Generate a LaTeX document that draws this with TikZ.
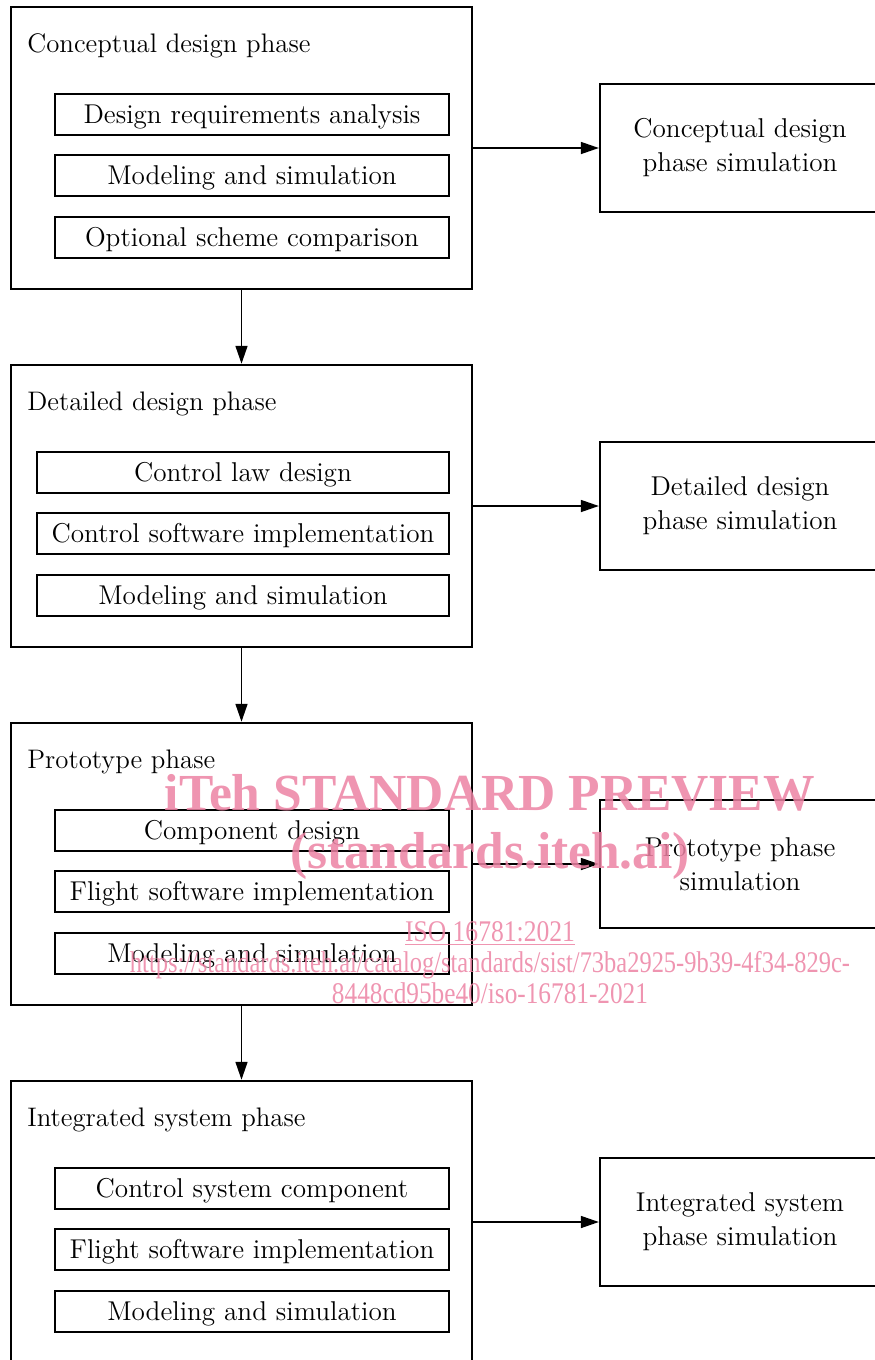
\documentclass[tikz,border=0pt]{standalone}
\usepackage{fontspec}
\usepackage{graphicx}
\newfontfamily\wmfont{Liberation Serif}
\usetikzlibrary{arrows.meta}
\definecolor{wmpink}{RGB}{236,130,163}
\tikzset{
 outerbox/.style={draw, line width=1.25pt, minimum width=230.5pt, minimum height=141pt, inner sep=0pt},
 innerbox/.style={draw, line width=1.35pt, minimum width=197pt, minimum height=20.5pt, inner sep=0pt, font=\fontsize{13.6}{17}\selectfont, text height=10.5pt, text depth=2pt},
 widebox/.style={innerbox, minimum width=206pt},
 sidebox/.style={draw, line width=1.15pt, minimum width=140pt, minimum height=64pt, align=center, font=\fontsize{13.6}{17}\selectfont},
 phasetitle/.style={anchor=base west, inner sep=0pt, font=\fontsize{13.4}{16}\selectfont},
 arr/.style={line width=0.8pt, -{Triangle[length=9pt,width=6pt]}},
 wm/.style={text=wmpink, opacity=0.85, inner sep=0pt, anchor=base},
}
\begin{document}
\begin{tikzpicture}[x=0.5pt,y=-0.5pt]
\useasboundingbox (0,0) rectangle (874,1360);
% phase 1
\node[outerbox] (o1) at (241.5,148) {};
\node[phasetitle] (t1) at (27,52) {Conceptual design phase};
\node[innerbox] (a1) at (252,114.5) {Design requirements analysis};
\node[innerbox] (a2) at (252,175.5) {Modeling and simulation};
\node[innerbox] (a3) at (252,237.5) {Optional scheme comparison};
\node[sidebox] (r1) at (740,148) {Conceptual design\\phase simulation};
% phase 2
\node[outerbox] (o2) at (241.5,506) {};
\node[phasetitle] (t2) at (27,410) {Detailed design phase};
\node[widebox] (b1) at (243,472.5) {Control law design};
\node[widebox] (b2) at (243,533.5) {Control software implementation};
\node[widebox] (b3) at (243,595.5) {Modeling and simulation};
\node[sidebox] (r2) at (740,506) {Detailed design\\phase simulation};
% phase 3
\node[outerbox] (o3) at (241.5,864) {};
\node[phasetitle] (t3) at (27,768) {Prototype phase};
\node[innerbox] (c1) at (252,830.5) {Component design};
\node[innerbox] (c2) at (252,891.5) {Flight software implementation};
\node[innerbox] (c3) at (252,953.5) {Modeling and simulation};
\node[sidebox] (r3) at (740,864) {Prototype phase\\simulation};
% phase 4
\node[outerbox] (o4) at (241.5,1222) {};
\node[phasetitle] (t4) at (27,1126) {Integrated system phase};
\node[innerbox] (d1) at (252,1188.5) {Control system component};
\node[innerbox] (d2) at (252,1249.5) {Flight software implementation};
\node[innerbox] (d3) at (252,1311.5) {Modeling and simulation};
\node[sidebox] (r4) at (740,1222) {Integrated system\\phase simulation};
% connectors
\draw[arr] (o1.east) -- (r1.west);
\draw[arr] (o2.east) -- (r2.west);
\draw[arr] (o3.east) -- (r3.west);
\draw[arr] (o4.east) -- (r4.west);
\draw[arr] (o1.south) -- (o2.north);
\draw[arr] (o2.south) -- (o3.north);
\draw[arr] (o3.south) -- (o4.north);
% watermark
\node[wm] (w1) at (490,810) {\resizebox{325pt}{\height}{\wmfont\bfseries\fontsize{26}{30}\selectfont iTeh STANDARD PREVIEW}};
\node[wm] (w2) at (490,868) {\resizebox{200pt}{\height}{\wmfont\bfseries\fontsize{26}{30}\selectfont (standards.iteh.ai)}};
\node[wm] (w3) at (490,941) {\resizebox{85pt}{\height}{\wmfont\fontsize{15}{18}\selectfont\underline{ISO 16781:2021}}};
\node[wm] (w4) at (490,972) {\resizebox{360pt}{\height}{\wmfont\fontsize{15}{18}\selectfont https://standards.iteh.ai/catalog/standards/sist/73ba2925-9b39-4f34-829c-}};
\node[wm] (w5) at (490,1003) {\resizebox{158pt}{\height}{\wmfont\fontsize{15}{18}\selectfont 8448cd95be40/iso-16781-2021}};
\end{tikzpicture}
\end{document}
